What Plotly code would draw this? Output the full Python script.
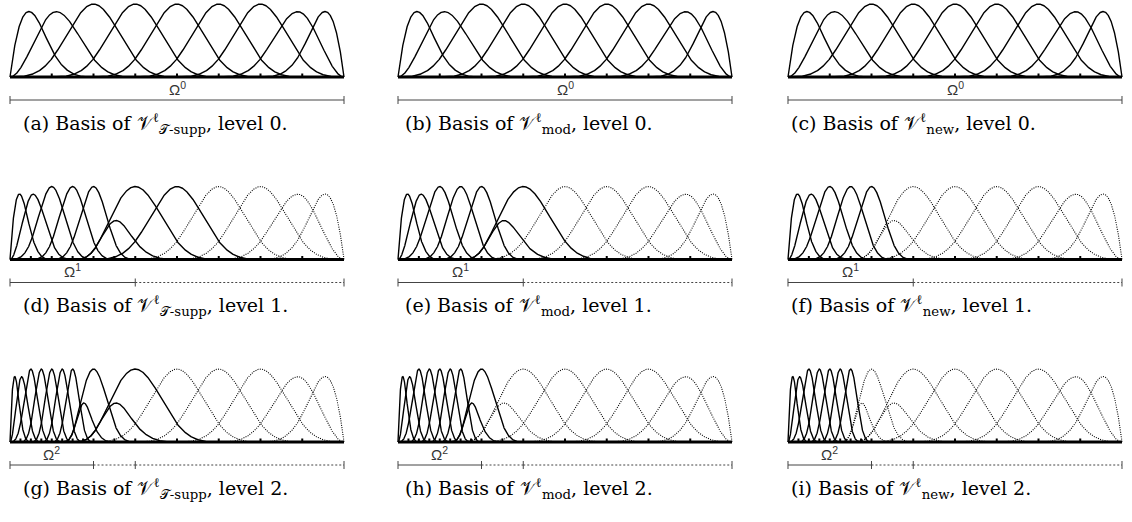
import numpy as np
import plotly.graph_objects as go

# cubic B-splines on an open uniform knot vector, 8 elements at level 0,
# dyadic refinement; refined regions Omega^l = [0, omega_ends[l]]
degree = 3
base_elements = 8
omega_ends = [1.0, 3 / 8, 2 / 8]
variants = ["T-supp", "mod", "new"]
letters = [["a", "b", "c"], ["d", "e", "f"], ["g", "h", "i"]]
subscripts = ["𝒯-supp", "mod", "new"]

W, H = 1132, 522
col_left = [10, 398, 788]
col_caption = [21, 403, 789]
panel_w = 334
row_base = [77, 259.5, 442]
row_caption = [123, 305, 488]
ppu = 109.5          # pixels per unit of basis value
y_lo, y_hi = -0.27, 0.70
pad = 0.01
serif = "DejaVu Serif"
sans = "Liberation Sans"

xs = np.linspace(0, 1, 2401)


def knots(level):
    n = base_elements * 2 ** level
    return np.concatenate([[0.0] * degree, np.arange(n + 1) / n, [1.0] * degree])


def basis(t, x):
    m = len(t) - 1
    B = np.zeros((m, len(x)))
    for i in range(m):
        if t[i] < t[i + 1]:
            B[i] = (x >= t[i]) & (x < t[i + 1])
    last = np.nonzero(t[:-1] < t[1:])[0].max()
    B[last, x >= t[-1]] = 1
    for k in range(1, degree + 1):
        Bn = np.zeros((m - k, len(x)))
        for i in range(m - k):
            d1 = t[i + k] - t[i]
            d2 = t[i + k + 1] - t[i + 1]
            if d1 > 0:
                Bn[i] += (x - t[i]) / d1 * B[i]
            if d2 > 0:
                Bn[i] += (t[i + k + 1] - x) / d2 * B[i + 1]
        B = Bn
    return B


T = [knots(l) for l in range(3)]
Bx = [basis(t, xs) for t in T]
sample = np.linspace(0.0005, 0.9995, 1500)
R = []
for l in range(2):
    Bc = basis(T[l], sample)
    Bf = basis(T[l + 1], sample)
    Rt = np.linalg.lstsq(Bf.T, Bc.T, rcond=None)[0].T
    Rt[np.abs(Rt) < 1e-9] = 0
    R.append(Rt)


def supp_end(l, i):
    return T[l][i + degree + 1]


def active(L):
    out = []
    for l in range(L + 1):
        n = len(T[l]) - degree - 1
        for i in range(1, n - 1):
            if supp_end(l, i) > omega_ends[l] + 1e-12:
                continue
            if l < L and supp_end(l, i) <= omega_ends[l + 1] + 1e-12:
                continue
            out.append((l, i))
    return out


def truncate(l, i, L):
    c = np.zeros(len(T[l]) - degree - 1)
    c[i] = 1.0
    modified = False
    for k in range(l + 1, L + 1):
        c = c @ R[k - 1]
        for j in range(len(c)):
            if c[j] != 0 and supp_end(k, j) <= omega_ends[k] + 1e-12:
                c[j] = 0
                if k == L:
                    modified = True
    return c, modified


fig = go.Figure()
layout = {}


def add_xy(xv, yv, ax, **line):
    fig.add_trace(go.Scatter(x=xv, y=yv, mode="lines", line=line,
                             xaxis="x" + ax, yaxis="y" + ax,
                             hoverinfo="skip", showlegend=False))


for r, L in enumerate([0, 1, 2]):
    for c, var in enumerate(variants):
        k = r * 3 + c + 1
        ax = "" if k == 1 else str(k)
        x0 = col_left[c] - pad * panel_w
        x1 = col_left[c] + (1 + pad) * panel_w
        top = row_base[r] - y_hi * ppu
        bot = row_base[r] - y_lo * ppu
        layout["xaxis" + ax] = dict(domain=[x0 / W, x1 / W], range=[-pad, 1 + pad],
                                    visible=False, anchor="y" + ax, fixedrange=True)
        layout["yaxis" + ax] = dict(domain=[1 - bot / H, 1 - top / H], range=[y_lo, y_hi],
                                    visible=False, anchor="x" + ax, fixedrange=True)

        solid_x, solid_y, dot_x, dot_y = [], [], [], []
        for (l, i) in active(L):
            coef, modified = truncate(l, i, L)
            nz = np.nonzero(coef)[0]
            a, b = T[L][nz.min()], T[L][nz.max() + degree + 1]
            if L == 0 or l == L:
                solid = True
            elif var == "new":
                solid = False
            elif var == "mod":
                solid = modified
            else:
                solid = a < omega_ends[L] - 1e-12
            m = (xs >= a) & (xs <= b)
            yv = coef @ Bx[L]
            if solid:
                solid_x += list(xs[m]) + [None]
                solid_y += list(yv[m]) + [None]
            else:
                dot_x += list(xs[m]) + [None]
                dot_y += list(yv[m]) + [None]
        if dot_x:
            add_xy(dot_x, dot_y, ax, color="black", width=1.1, dash="1px,1.3px")
        add_xy(solid_x, solid_y, ax, color="black", width=1.4)

        # hierarchical mesh ticks
        ticks = set()
        for l in range(L + 1):
            for t in np.unique(T[l]):
                if 0 < t < 1 and t <= omega_ends[l] + 1e-12:
                    ticks.add(round(float(t), 10))
        tx, ty = [], []
        for t in sorted(ticks):
            tx += [t, t, None]
            ty += [0, 3.5 / ppu, None]
        add_xy(tx, ty, ax, color="black", width=2)
        add_xy([0, 1], [0, 0], ax, color="black", width=3)

        # ruler with Omega^L
        yr = -23 / ppu
        bounds = sorted(set([0.0, 1.0] + omega_ends[1:L + 1]))
        add_xy([0, bounds[1]], [yr, yr], ax, color="#444", width=1)
        for s in range(1, len(bounds) - 1):
            add_xy([bounds[s], bounds[s + 1]], [yr, yr], ax, color="#444", width=1, dash="2px,2px")
        cx, cy = [], []
        for bnd in bounds:
            cx += [bnd, bnd, None]
            cy += [yr - 4 / ppu, yr + 4 / ppu, None]
        add_xy(cx, cy, ax, color="#444", width=1)
        fig.add_annotation(x=bounds[1] / 2, y=yr + 0.5 / ppu, xref="x" + ax, yref="y" + ax,
                           text=f"Ω<sup>{L}</sup>", showarrow=False, yanchor="bottom",
                           font=dict(family=sans, size=15, color="#333"))
        fig.add_annotation(x=col_caption[c] / W, y=1 - row_caption[r] / H, xref="paper", yref="paper",
                           xanchor="left", yanchor="middle", showarrow=False,
                           text=f"({letters[r][c]}) Basis of 𝒱<sup>ℓ</sup><sub>{subscripts[c]}</sub>, level {L}.",
                           font=dict(family=serif, size=19, color="black"))

fig.update_layout(width=W, height=H, margin=dict(l=0, r=0, t=0, b=0),
                  paper_bgcolor="white", plot_bgcolor="white", **layout)
fig.write_html("out.html", config={"displayModeBar": False},
               post_script="document.body.style.margin='0px';")
